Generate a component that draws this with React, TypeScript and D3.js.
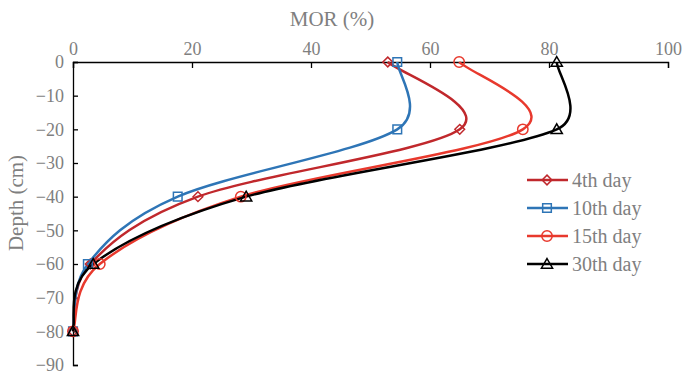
import React, { useEffect, useRef } from 'react';
import * as d3 from 'd3';

const depths = [0, -20, -40, -60, -80];
const day4 = [52.9, 65.0, 21.0, 2.9, 0];
const day10 = [54.5, 54.5, 17.6, 2.5, 0];
const day15 = [64.9, 75.6, 28.2, 4.5, 0];
const day30 = [81.3, 81.3, 29.1, 3.4, 0];
const seriesNames = ['4th day', '10th day', '15th day', '30th day'];
const xTicks = [0, 20, 40, 60, 80, 100];
const yTicks = [0, -10, -20, -30, -40, -50, -60, -70, -80, -90];

const colors = ['#C0282C', '#2E75B6', '#E8392D', '#000000'];
const markers = ['diamond', 'square', 'circle', 'triangle'];

// spreadsheet-style smoothed line: bezier arms of 1/6 of the neighbour chord,
// capped at half the segment length
const smoothPath = (pts) => {
  const p = d3.path();
  const dist = (a, b) => Math.hypot(b[0] - a[0], b[1] - a[1]);
  p.moveTo(pts[0][0], pts[0][1]);
  for (let i = 0; i < pts.length - 1; i++) {
    const p0 = pts[i - 1] || pts[i];
    const p1 = pts[i];
    const p2 = pts[i + 1];
    const p3 = pts[i + 2] || pts[i + 1];
    const d12 = dist(p1, p2);
    const d02 = dist(p0, p2);
    const d13 = dist(p1, p3);
    const f0 = d02 / 6 < d12 / 2 ? 1 / 6 : d12 / d02 / 2;
    const f1 = d13 / 6 < d12 / 2 ? 1 / 6 : d12 / d13 / 2;
    p.bezierCurveTo(
      p1[0] + (p2[0] - p0[0]) * f0, p1[1] + (p2[1] - p0[1]) * f0,
      p2[0] - (p3[0] - p1[0]) * f1, p2[1] - (p3[1] - p1[1]) * f1,
      p2[0], p2[1]
    );
  }
  return p.toString();
};

const App = () => {
  const svgRef = useRef(null);

  useEffect(() => {
    const width = 685;
    const height = 373;
    const svg = d3.select(svgRef.current)
      .attr('width', width)
      .attr('height', height)
      .style('position', 'absolute')
      .style('left', 0)
      .style('top', 0);
    svg.selectAll('*').remove();

    const font = '"Liberation Serif", "Times New Roman", serif';
    const grey = '#7F7F7F';

    const x = d3.scaleLinear().domain([0, 100]).range([73, 668]);
    const y = d3.scaleLinear().domain([0, -90]).range([62, 365]);

    // axes
    const xAxis = svg.append('g')
      .attr('transform', `translate(0, ${y(0)})`)
      .call(d3.axisTop(x).tickValues(xTicks).tickSize(-6).tickPadding(10));
    xAxis.select('.domain').attr('stroke', '#000').attr('stroke-width', 1.3);
    xAxis.selectAll('.tick line').attr('stroke', '#000').attr('stroke-width', 1.3);
    xAxis.selectAll('.tick text')
      .attr('font-family', font)
      .attr('font-size', 18)
      .attr('fill', grey)
      .attr('y', -7);

    const yAxis = svg.append('g')
      .attr('transform', `translate(${x(0)}, 0)`)
      .call(d3.axisLeft(y).tickValues(yTicks).tickSize(-5).tickPadding(9));
    yAxis.select('.domain').attr('stroke', '#000').attr('stroke-width', 1.3);
    yAxis.selectAll('.tick line').attr('stroke', '#000').attr('stroke-width', 1.3);
    yAxis.selectAll('.tick text')
      .attr('font-family', font)
      .attr('font-size', 18)
      .attr('fill', grey);

    svg.append('text')
      .attr('x', 332)
      .attr('y', 26)
      .attr('text-anchor', 'middle')
      .attr('font-family', font)
      .attr('font-size', 21)
      .attr('fill', grey)
      .text('MOR (%)');

    svg.append('text')
      .attr('transform', `translate(23, 203) rotate(-90)`)
      .attr('text-anchor', 'middle')
      .attr('font-family', font)
      .attr('font-size', 21)
      .attr('fill', grey)
      .text('Depth (cm)');

    const symbolOf = (m) => {
      if (m === 'diamond') return d3.symbol().type(d3.symbolDiamond2).size(60);
      if (m === 'square') return d3.symbol().type(d3.symbolSquare2).size(95);
      if (m === 'circle') return d3.symbol().type(d3.symbolCircle).size(85);
      return d3.symbol().type(d3.symbolTriangle2).size(90);
    };

    const allData = [day4, day10, day15, day30];

    allData.forEach((vals, i) => {
      const pts = vals.map((v, j) => [x(v), y(depths[j])]);
      svg.append('path')
        .attr('d', smoothPath(pts))
        .attr('fill', 'none')
        .attr('stroke', colors[i])
        .attr('stroke-width', 2.5);
    });

    allData.forEach((vals, i) => {
      const sym = symbolOf(markers[i]);
      svg.append('g').selectAll('path')
        .data(vals.map((v, j) => [v, depths[j]]))
        .enter()
        .append('path')
        .attr('d', sym())
        .attr('transform', d => `translate(${x(d[0])}, ${y(d[1]) + (markers[i] === 'triangle' ? 1 : 0)})`)
        .attr('fill', 'none')
        .attr('stroke', colors[i])
        .attr('stroke-width', 1.5);
    });

    // legend
    const legend = svg.append('g').attr('transform', 'translate(527, 180)');
    seriesNames.forEach((name, i) => {
      const row = legend.append('g').attr('transform', `translate(0, ${i * 28})`);
      row.append('line')
        .attr('x1', 0).attr('x2', 41)
        .attr('y1', 0).attr('y2', 0)
        .attr('stroke', colors[i])
        .attr('stroke-width', 2.5);
      row.append('path')
        .attr('d', symbolOf(markers[i])())
        .attr('transform', `translate(20, ${markers[i] === 'triangle' ? 1 : 0})`)
        .attr('fill', 'none')
        .attr('stroke', colors[i])
        .attr('stroke-width', 1.5);
      row.append('text')
        .attr('x', 45)
        .attr('y', 7)
        .attr('font-family', font)
        .attr('font-size', 20)
        .attr('fill', grey)
        .text(name);
    });
  }, []);

  return <svg ref={svgRef} />;
};

export default App;
